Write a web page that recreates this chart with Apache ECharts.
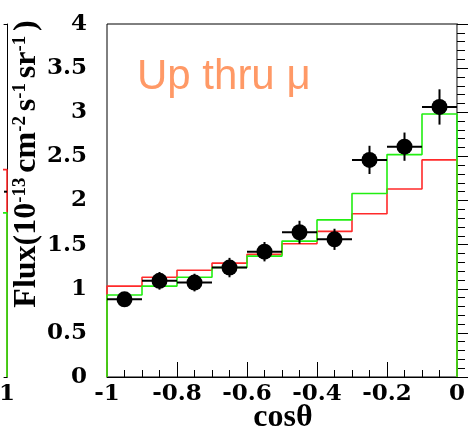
<!DOCTYPE html>
<html><head><meta charset="utf-8">
<script src="https://cdn.jsdelivr.net/npm/echarts@6/dist/echarts.min.js"></script>
<style>html,body{margin:0;padding:0;background:#fff}#c{width:468px;height:429px}</style>
</head><body><div id="c"></div>
<script>
// ---- data ----
const binEdges   = [-1.0, -0.9, -0.8, -0.7, -0.6, -0.5, -0.4, -0.3, -0.2, -0.1, 0.0];
const binCenters = [-0.95, -0.85, -0.75, -0.65, -0.55, -0.45, -0.35, -0.25, -0.15, -0.05];
const dataFlux   = [0.88, 1.09, 1.07, 1.24, 1.42, 1.64, 1.56, 2.46, 2.61, 3.06];
const dataErr    = [0.08, 0.10, 0.10, 0.11, 0.11, 0.13, 0.12, 0.16, 0.16, 0.20];
const mcRed      = [1.03, 1.13, 1.21, 1.29, 1.39, 1.51, 1.65, 1.85, 2.13, 2.46];
const mcGreen    = [0.93, 1.03, 1.13, 1.24, 1.37, 1.54, 1.78, 2.08, 2.52, 2.98];
// neighbouring (cut-off) panel on the left: last bin only
const leftEdges   = [0.9, 1.0];
const leftCenters = [0.95];
const leftFlux    = [2.10];
const leftErr     = [0.15];
const leftRed     = [2.35];
const leftGreen   = [1.86];
const yTickLabels = ['0','0.5','1','1.5','2','2.5','3','3.5','4'];
const xTickLabels = ['-1','-0.8','-0.6','-0.4','-0.2','0'];

function stepData(edges, vals){
  const d = [[edges[0], 0]];
  for (let i = 0; i < vals.length; i++) d.push([edges[i+1], vals[i]]);
  d.push([edges[edges.length-1], 0]);
  return d;
}
function errData(centers, edges, vals, errs){
  return centers.map((c,i)=>[c, vals[i], errs[i], edges[i], edges[i+1]]);
}
const RED = '#ff2a2a', GREEN = '#22ee11';
const tickFont = {fontFamily:'DejaVu Serif', fontWeight:'bold', fontSize:23, color:'#000'};

function errRender(params, api){
  const c = api.value(0), v = api.value(1), e = api.value(2), lo = api.value(3), hi = api.value(4);
  const pL = api.coord([lo, v]), pR = api.coord([hi, v]);
  const pT = api.coord([c, v+e]), pB = api.coord([c, v-e]);
  const st = {stroke:'#000', lineWidth:2};
  return {type:'group', children:[
    {type:'line', shape:{x1:pL[0], y1:pL[1], x2:pR[0], y2:pR[1]}, style:st},
    {type:'line', shape:{x1:pT[0], y1:pT[1], x2:pB[0], y2:pB[1]}, style:st}
  ]};
}

const chart = echarts.init(document.getElementById('c'), null, {renderer:'canvas'});
chart.setOption({
  animation:false,
  backgroundColor:'#fff',
  grid:[
    {left:107, right:8, top:24, bottom:52, show:true, borderColor:'#000', borderWidth:1, backgroundColor:'transparent'},
    {left:0, width:7, top:24, bottom:52, show:false}
  ],
  xAxis:[
    {gridIndex:0, type:'value', min:-1, max:0, interval:0.2,
     axisLine:{lineStyle:{color:'#000', width:1}},
     axisTick:{inside:true, length:15, lineStyle:{color:'#000'}},
     minorTick:{show:true, splitNumber:4, length:7, lineStyle:{color:'#000'}},
     splitLine:{show:false},
     axisLabel:Object.assign({margin:6, formatter:(v)=>{const i=Math.round((v+1)/0.2); return xTickLabels[i]!==undefined?xTickLabels[i]:'';}}, tickFont)},
    {gridIndex:1, type:'value', min:0.99, max:1.0, interval:0.01,
     axisLine:{lineStyle:{color:'#000'}},
     axisTick:{show:false}, splitLine:{show:false},
     axisLabel:Object.assign({margin:6, showMinLabel:false, formatter:(v)=> v>=0.999?'1':''}, tickFont)},
    {gridIndex:1, type:'value', position:'top', min:0.99, max:1.0,
     axisLine:{lineStyle:{color:'#000'}}, axisTick:{show:false}, axisLabel:{show:false}, splitLine:{show:false}}
  ],
  yAxis:[
    {gridIndex:0, type:'value', min:0, max:4, interval:0.5,
     axisLine:{show:true, lineStyle:{color:'#000', width:1}},
     axisTick:{inside:true, length:15, lineStyle:{color:'#000'}},
     minorTick:{show:true, splitNumber:5, length:8, lineStyle:{color:'#000'}},
     splitLine:{show:false},
     axisLabel:Object.assign({margin:20, formatter:(v)=>{const i=Math.round(v/0.5); return yTickLabels[i]!==undefined?yTickLabels[i]:'';}}, tickFont)},
    {gridIndex:0, type:'value', position:'right', min:0, max:4,
     axisLine:{show:true, lineStyle:{color:'#8a8a8a', width:1}},
     axisTick:{show:false}, axisLabel:{show:false}, splitLine:{show:false}},
    {gridIndex:1, type:'value', position:'right', min:0, max:4,
     axisLine:{show:true, lineStyle:{color:'#000', width:1}},
     axisTick:{show:false}, axisLabel:{show:false}, splitLine:{show:false}}
  ],
  series:[
    {type:'line', xAxisIndex:0, yAxisIndex:0, step:'start', data:stepData(binEdges, mcRed),
     showSymbol:false, symbol:'none', lineStyle:{color:RED, width:1.6}, z:2, silent:true},
    {type:'line', xAxisIndex:0, yAxisIndex:0, step:'start', data:stepData(binEdges, mcGreen),
     showSymbol:false, symbol:'none', lineStyle:{color:GREEN, width:1.6}, z:3, silent:true},
    {type:'custom', xAxisIndex:0, yAxisIndex:0, renderItem:errRender, data:errData(binCenters, binEdges, dataFlux, dataErr), z:4, clip:true},
    {type:'scatter', xAxisIndex:0, yAxisIndex:0, data:binCenters.map((c,i)=>[c, dataFlux[i]]),
     symbol:'circle', symbolSize:16, itemStyle:{color:'#000', opacity:1}, z:5},

    {type:'line', xAxisIndex:1, yAxisIndex:2, step:'start', data:stepData(leftEdges, leftRed),
     showSymbol:false, symbol:'none', lineStyle:{color:RED, width:1.6}, z:2, silent:true, clip:true},
    {type:'line', xAxisIndex:1, yAxisIndex:2, step:'start', data:stepData(leftEdges, leftGreen),
     showSymbol:false, symbol:'none', lineStyle:{color:GREEN, width:1.6}, z:3, silent:true, clip:true},
    {type:'custom', xAxisIndex:1, yAxisIndex:2, renderItem:errRender, data:errData(leftCenters, leftEdges, leftFlux, leftErr), z:4, clip:true},
    {type:'scatter', xAxisIndex:1, yAxisIndex:2, data:leftCenters.map((c,i)=>[c, leftFlux[i]]),
     symbol:'circle', symbolSize:16, itemStyle:{color:'#000', opacity:1}, z:5, clip:true}
  ],
  graphic:[
    {type:'text', left:137, top:56, z:10, silent:true,
     style:{text:'Up thru μ', fill:'#ff9966', font:'42px "Liberation Sans"'}},
    {type:'text', x:283, y:418, z:10, silent:true,
     style:{text:'cosθ', fill:'#000', font:'bold 32px "Liberation Serif"', align:'center', verticalAlign:'middle'}},
    {type:'text', x:27, y:164, rotation:Math.PI/2, z:10, silent:true,
     style:{text:'{m|Flux(10}{s|-13 }{m|cm}{s|-2 }{m|s}{s|-1 }{m|sr}{s|-1 }{m|)}', align:'center', verticalAlign:'middle',
       rich:{
         m:{fontFamily:'Liberation Serif', fontWeight:'bold', fontSize:32, lineHeight:32, padding:[10,0,0,0], fill:'#000', color:'#000', verticalAlign:'bottom'},
         s:{fontFamily:'Liberation Serif', fontWeight:'bold', fontSize:19, lineHeight:19, fill:'#000', color:'#000', verticalAlign:'top'}
       }}}
  ]
});
</script></body></html>
